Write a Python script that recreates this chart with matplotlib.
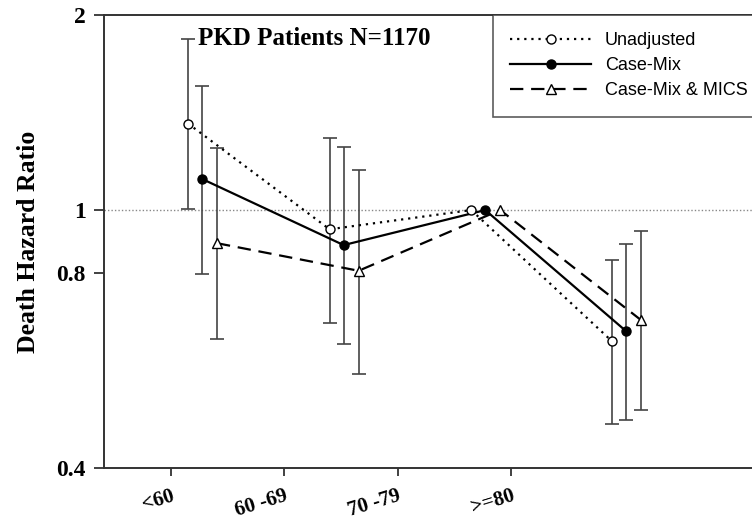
import numpy as np
import matplotlib.pyplot as plt
from matplotlib.lines import Line2D

# datos
grupos = ["<60", "60 -69", "70 -79", ">=80"]

unadj = [1.36, 0.934, 1.0, 0.628]
unadj_lo = [1.005, 0.669, 1.0, 0.467]
unadj_hi = [1.836, 1.293, 1.0, 0.838]

casemix = [1.117, 0.883, 1.0, 0.651]
casemix_lo = [0.796, 0.621, 1.0, 0.474]
casemix_hi = [1.554, 1.250, 1.0, 0.886]

mics = [0.889, 0.806, 1.0, 0.677]
mics_lo = [0.632, 0.559, 1.0, 0.491]
mics_hi = [1.245, 1.153, 1.0, 0.928]

y_ticks = [0.4, 0.8, 1, 2]
y_ticklabels = ["0.4", "0.8", "1", "2"]

serif = ["Liberation Serif", "DejaVu Serif"]
sans = ["Liberation Sans", "DejaVu Sans"]

fig = plt.figure(figsize=(7.52, 5.25), dpi=100)
ax = fig.add_axes([0.1383, 0.1086, 0.8617, 0.8629])

# posiciones de los puntos (desplazados respecto a los ticks, como en el original)
x_base = np.array([1.15, 2.40, 3.65, 4.89])
dx = [0.0, 0.124, 0.256]

series = [
    (unadj, unadj_lo, unadj_hi, "Unadjusted", dict(ls=(0, (1, 2.2)), marker="o", mfc="white")),
    (casemix, casemix_lo, casemix_hi, "Case-Mix", dict(ls="-", marker="o", mfc="black")),
    (mics, mics_lo, mics_hi, "Case-Mix & MICS", dict(ls=(0, (6, 3.5)), marker="^", mfc="white")),
]

handles = []
for k, (v, lo, hi, lab, st) in enumerate(series):
    v = np.array(v)
    x = x_base + dx[k]
    yerr = np.array([v - np.array(lo), np.array(hi) - v])
    # barras de error solo donde hay intervalo
    m = yerr.sum(axis=0) > 0
    ax.errorbar(x[m], v[m], yerr=yerr[:, m], fmt="none", ecolor="#444444",
                elinewidth=1.2, capsize=5, capthick=1.2, zorder=2)
    ax.plot(x, v, color="black", lw=1.6, ls=st["ls"], zorder=3)
    ms = 7.5 if st["marker"] == "^" else 6.5
    ax.plot(x, v, ls="none", marker=st["marker"], ms=ms,
            mfc=st["mfc"], mec="black", mew=1.0, zorder=4)
    handles.append(Line2D([], [], color="black", lw=1.6, ls=st["ls"], marker=st["marker"],
                          ms=ms, mfc=st["mfc"], mec="black", mew=1.0))

ax.axhline(1, color="#888888", lw=1.0, ls=(0, (1, 1.5)), zorder=1)

ax.set_yscale("log")
ax.set_ylim(0.4, 2)
ax.set_xlim(0.409, 6.128)
ax.set_yticks(y_ticks)
ax.set_yticklabels(y_ticklabels, fontfamily=serif, fontweight="bold", fontsize=17)
ax.yaxis.set_minor_locator(plt.NullLocator())
ax.set_xticks([1, 2, 3, 4])
ax.set_xticklabels(grupos, fontfamily=serif, fontweight="bold", fontsize=15,
                   rotation=17, ha="right", rotation_mode="anchor")
ax.tick_params(axis="y", direction="out", length=7, width=1.3, color="#333333", pad=6)
ax.tick_params(axis="x", direction="out", length=6, width=1.3, color="#333333", pad=7)

for s in ["left", "bottom", "top"]:
    ax.spines[s].set_linewidth(1.4)
    ax.spines[s].set_color("#333333")
ax.spines["right"].set_visible(False)

ax.set_ylabel("Death Hazard Ratio", fontfamily=serif, fontweight="bold", fontsize=18.5, labelpad=12)

ax.text(0.145, 0.948, "PKD Patients N=1170", transform=ax.transAxes, fontfamily=serif,
        fontweight="bold", fontsize=18, va="center", ha="left")

leg = ax.legend(handles, [s[3] for s in series], loc="upper left", bbox_to_anchor=(0.600, 1.0),
                borderaxespad=0, frameon=True, fancybox=False, numpoints=1,
                handlelength=4.5, handletextpad=0.75, labelspacing=0.45, borderpad=0.95,
                prop={"family": sans, "size": 13})
leg.get_frame().set_edgecolor("#333333")
leg.get_frame().set_linewidth(1.2)

plt.savefig("out.png", dpi=100)
